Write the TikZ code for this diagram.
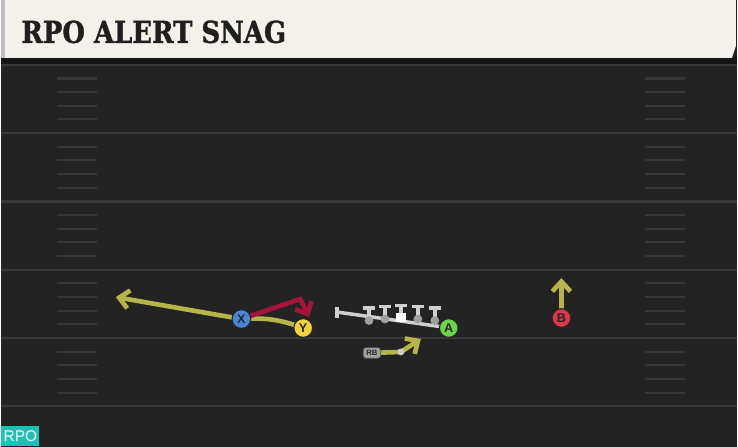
\documentclass[tikz,border=0pt]{standalone}
\usepackage{fontspec}
\setmainfont{Liberation Sans}
\setsansfont{Liberation Sans}
\newfontfamily\titlefont{DejaVu Serif}[FakeStretch=0.86,FakeBold=1.2]
\usetikzlibrary{arrows.meta}
\definecolor{fieldbg}{HTML}{232323}
\definecolor{fieldline}{HTML}{393939}
\definecolor{hashline}{HTML}{373737}
\definecolor{headbg}{HTML}{F4F1EA}
\definecolor{headshade}{HTML}{161616}
\definecolor{routegold}{HTML}{B5B54A}
\definecolor{routered}{HTML}{A5143B}
\definecolor{rpoteal}{HTML}{1CC3B5}
\definecolor{xblue}{HTML}{4A86D8}
\definecolor{yyellow}{HTML}{F2D13A}
\definecolor{agreen}{HTML}{6DD447}
\definecolor{bred}{HTML}{E0354A}
\definecolor{olgrey}{HTML}{D0D0D0}
\definecolor{dotgrey}{HTML}{A0A0A0}

\tikzset{
  player/.style={circle, draw=black!85, line width=0.8pt, fill=#1,
    minimum size=0.47cm, inner sep=0pt, text=black!85,
    font=\sffamily\bfseries\fontsize{9}{9}\selectfont},
  route/.style={line width=3.3pt, draw=routegold, line cap=round,
    -{Straight Barb[length=7pt,width=13pt]}},
  redroute/.style={route, draw=routered},
  olbar/.style={draw=olgrey, line width=2.5pt},
  lineman/.style={circle, fill=dotgrey, minimum size=0.22cm, inner sep=0pt},
  centerman/.style={rectangle, fill=white, minimum size=0.24cm, inner sep=0pt},
  hash/.style={draw=hashline, line width=1.5pt},
}

\begin{document}
\begin{tikzpicture}[x=0.025cm,y=-0.025cm]
% Field
\fill[fieldbg] (0,0) rectangle (738,448);
\foreach \ly in {65,133.5,202,270.5,339,407.5}
  \draw[fieldline, line width=1.6pt] (0,\ly) -- (738,\ly);

% Hash marks
\foreach \ly in {65,133.5,202,270.5,339}
  \foreach \k in {1,...,4} {
    \draw[hash] (56,\ly+\k*13.7) -- (96,\ly+\k*13.7);
    \draw[hash] (646,\ly+\k*13.7) -- (686,\ly+\k*13.7);
  }

% Header
\fill[headshade] (0,57) rectangle (738,64);
\fill[headbg] (0,0) -- (737,0) -- (737,46) -- (733,58) -- (0,58) -- cycle;
\fill[black!25] (0,0) rectangle (4,58);
\node[anchor=base west, inner sep=0pt, text=black!88,
  font=\titlefont\bfseries\fontsize{21.5}{22}\selectfont] (title) at (20,43) {RPO ALERT SNAG};

% Positions
\coordinate (posX) at (241,320);
\coordinate (posY) at (303,329);
\coordinate (posA) at (449,329);
\coordinate (posB) at (562,319);
\coordinate (posRB) at (372,354);
\coordinate (xend) at (115,298);
\coordinate (xbreak) at (300,300);
\coordinate (xtip) at (309,318);
\coordinate (rbknee) at (401,353);
\coordinate (rbtip) at (421,340);
\coordinate (btip) at (562,279);
\coordinate (olleft) at (337,313);

% Routes
\draw[route] (posY) to[bend right=12] (posX) -- (xend);
\draw[redroute] (posX) -- (xbreak) -- (xtip);
\draw[route] (posRB) -- (rbknee) -- (rbtip);
\draw[route] (posB) -- (btip);

% Line
\draw[olbar] (olleft) -- (440,327.5);
\draw[olbar] (337,307.5) -- (337,318.5);
\foreach \name/\ox/\oy in {ol1/369/321.5, ol2/385/320, ol4/418/320, ol5/435/321.5} {
  \draw[olbar] (\ox,\oy) -- (\ox,\oy-12.5);
  \draw[olbar] (\ox-6,\oy-12.5) -- (\ox+6,\oy-12.5);
  \node[lineman] (\name) at (\ox,\oy) {};
}
\draw[olbar] (401,318.5) -- (401,306.5);
\draw[olbar] (395,306.5) -- (407,306.5);
\node[centerman] (ol3) at (401,318.5) {};

% Players
\node[circle, fill=olgrey, minimum size=0.17cm, inner sep=0pt] (rbdot) at (rbknee) {};
\node[rectangle, rounded corners=2pt, fill=dotgrey, draw=black!70, line width=0.5pt,
  minimum width=0.44cm, minimum height=0.27cm, inner sep=0pt, text=black!85,
  font=\sffamily\bfseries\fontsize{5.5}{5.5}\selectfont] (RB) at (posRB) {RB};
\node[player=xblue] (X) at (posX) {X};
\node[player=yyellow] (Y) at (posY) {Y};
\node[player=agreen] (A) at (posA) {A};
\node[player=bred] (B) at (posB) {B};

% Tag
\node[anchor=south west, fill=rpoteal, text=white, inner sep=0pt,
  minimum width=0.95cm, minimum height=0.5cm,
  font=\sffamily\fontsize{11}{11}\selectfont] (tag) at (0,448) {RPO};
\end{tikzpicture}
\end{document}
